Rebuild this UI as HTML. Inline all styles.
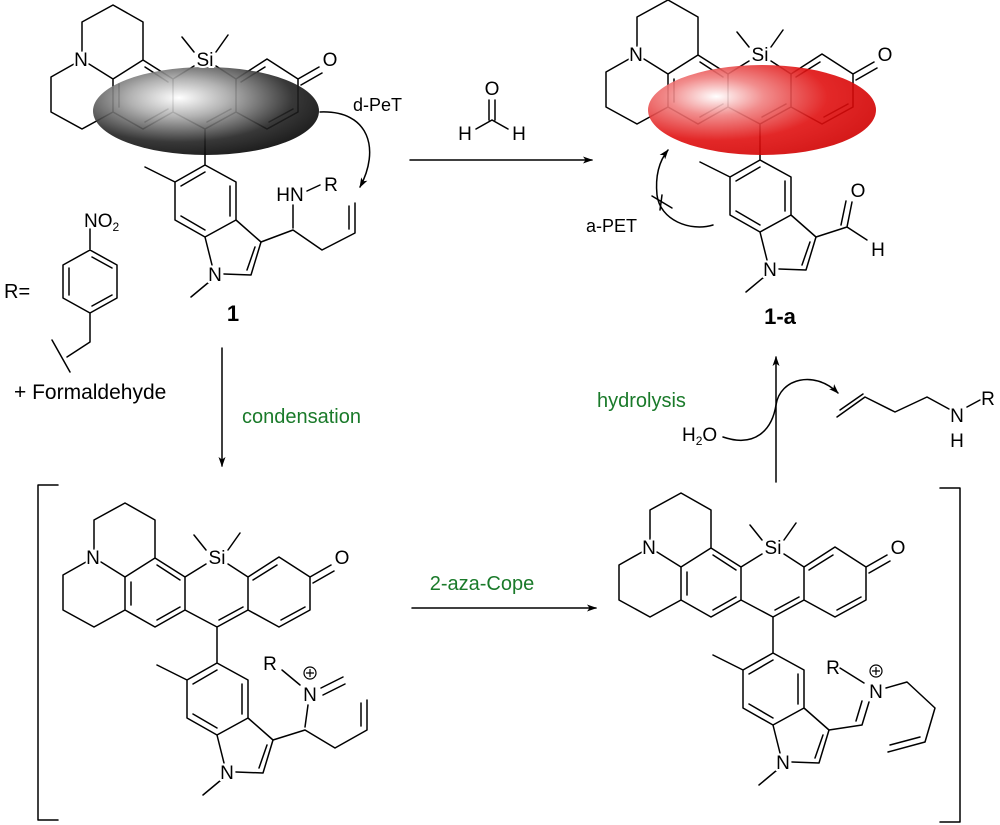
<!DOCTYPE html>
<html><head><meta charset="utf-8"><style>
html,body{margin:0;padding:0;background:#fff}
svg{display:block}
text{font-family:"Liberation Sans",Arial,sans-serif}
</style></head><body>
<svg width="1000" height="825" viewBox="0 0 1000 825" xmlns="http://www.w3.org/2000/svg">
<defs>
<radialGradient id="gk" cx="0.38" cy="0.35" r="0.72">
<stop offset="0" stop-color="#fff"/><stop offset="0.3" stop-color="#aaa"/><stop offset="0.7" stop-color="#222"/><stop offset="1" stop-color="#000"/></radialGradient>
<radialGradient id="gr" cx="0.3" cy="0.35" r="0.75">
<stop offset="0" stop-color="#fff"/><stop offset="0.28" stop-color="#f08080"/><stop offset="0.65" stop-color="#e01010"/><stop offset="1" stop-color="#d00000"/></radialGradient>
<marker id="ah" viewBox="0 0 10 10" refX="9" refY="5" markerWidth="10" markerHeight="10" orient="auto" markerUnits="userSpaceOnUse"><path d="M0,1.5 L10,5 L0,8.5 L2.5,5z" fill="#000"/></marker>
</defs>
<g fill="none" stroke="#000" stroke-width="1.5" stroke-linecap="round" stroke-linejoin="round">
<g>
<path d="M94,549 L94,520 L125,503 L155,520 L155,558 M86,562 L63,575 L63,610 L94,627 L125,610 M101,562 L125,577 M155,558 L185,577 L185,610 L155,627 L125,610 L125,577 L155,558 M157,565 L180,580 M131,582 L131,605 M157,620 L180,607 M185,577 L206,564 M228,564 L248,577 L248,610 L217,627 L185,610 M219,620 L243,607 M248,577 L279,557 L310,577 L310,610 L279,627 L248,610 M253,580 L277,565 M281,620 L305,607 M310,577 L331,565 M313,583 L334,571 M206,550 L194,535 M228,550 L240,533 M217,627 L217,663 L248,680 L248,718 L217,735 L187,718 L187,680 L217,663 M217,670 L193,684 M242,684 L242,714 M217,728 L193,714 M187,680 L157,665 M248,718 L273,740 L263,773 L236,772 M267,745 L259,768 M217,735 L224,763 M221,780 L203,795"/>
</g>
<g transform="translate(556,-10)">
<path d="M94,549 L94,520 L125,503 L155,520 L155,558 M86,562 L63,575 L63,610 L94,627 L125,610 M101,562 L125,577 M155,558 L185,577 L185,610 L155,627 L125,610 L125,577 L155,558 M157,565 L180,580 M131,582 L131,605 M157,620 L180,607 M185,577 L206,564 M228,564 L248,577 L248,610 L217,627 L185,610 M219,620 L243,607 M248,577 L279,557 L310,577 L310,610 L279,627 L248,610 M253,580 L277,565 M281,620 L305,607 M310,577 L331,565 M313,583 L334,571 M206,550 L194,535 M228,550 L240,533 M217,627 L217,663 L248,680 L248,718 L217,735 L187,718 L187,680 L217,663 M217,670 L193,684 M242,684 L242,714 M217,728 L193,714 M187,680 L157,665 M248,718 L273,740 L263,773 L236,772 M267,745 L259,768 M217,735 L224,763 M221,780 L203,795"/>
</g>
<g transform="translate(-12,-498)">
<path d="M94,549 L94,520 L125,503 L155,520 L155,558 M86,562 L63,575 L63,610 L94,627 L125,610 M101,562 L125,577 M155,558 L185,577 L185,610 L155,627 L125,610 L125,577 L155,558 M157,565 L180,580 M131,582 L131,605 M157,620 L180,607 M185,577 L206,564 M228,564 L248,577 L248,610 L217,627 L185,610 M219,620 L243,607 M248,577 L279,557 L310,577 L310,610 L279,627 L248,610 M253,580 L277,565 M281,620 L305,607 M310,577 L331,565 M313,583 L334,571 M206,550 L194,535 M228,550 L240,533 M217,627 L217,663 L248,680 L248,718 L217,735 L187,718 L187,680 L217,663 M217,670 L193,684 M242,684 L242,714 M217,728 L193,714 M187,680 L157,665 M248,718 L273,740 L263,773 L236,772 M267,745 L259,768 M217,735 L224,763 M221,780 L203,795"/>
</g>
<g transform="translate(543,-503)">
<path d="M94,549 L94,520 L125,503 L155,520 L155,558 M86,562 L63,575 L63,610 L94,627 L125,610 M101,562 L125,577 M155,558 L185,577 L185,610 L155,627 L125,610 L125,577 L155,558 M157,565 L180,580 M131,582 L131,605 M157,620 L180,607 M185,577 L206,564 M228,564 L248,577 L248,610 L217,627 L185,610 M219,620 L243,607 M248,577 L279,557 L310,577 L310,610 L279,627 L248,610 M253,580 L277,565 M281,620 L305,607 M310,577 L331,565 M313,583 L334,571 M206,550 L194,535 M228,550 L240,533 M217,627 L217,663 L248,680 L248,718 L217,735 L187,718 L187,680 L217,663 M217,670 L193,684 M242,684 L242,714 M217,728 L193,714 M187,680 L157,665 M248,718 L273,740 L263,773 L236,772 M267,745 L259,768 M217,735 L224,763 M221,780 L203,795"/>
</g>
<path d="M273,740 L305,730 L335,748 L367,730 L367,700 M361,726 L361,703 M305,727 L308,705 M282,670 L300,685 M321,688 L343,677 M323,695 L345,684"/>
<path d="M829,730 L862,725 L869,702 M856,721 L862,701 M886,688 L907,682 L935,708 L925,742 L888,752 M890,745 L920,737 M840,668 L864,683"/>
<path d="M261,242 L293,230 L322,250 L355,233 L355,203 M349,229 L349,206 M293,228 L293,205 M307,191 L320,185"/>
<path d="M816,237 L847,227 L867,240 M847,227 L852,202 M841,225 L846,201"/>
<path d="M90,250 L117,265 L117,298 L90,313 L63,298 L63,265 Z M69,268 L69,295 M92,257 L112,268 M92,306 L112,295 M90,250 L90,229 M90,313 L90,342 L67,357 M52,340 L70,372"/>
<path d="M489,100 L489,120 M495,100 L495,120 M492,120 L476,129 M492,120 L508,129"/>
<path d="M837,417 L865,397 L895,412 L927,397 L949,409 M840,410 L863,394 M967,407 L980,400"/>
<path d="M410,160 L592,160" marker-end="url(#ah)"/>
<path d="M222,348 L222,466" marker-end="url(#ah)"/>
<path d="M412,608 L596,608" marker-end="url(#ah)"/>
<path d="M776,482 L776,357" marker-end="url(#ah)"/>
<path d="M723,437 C755,448 772,430 776,405 C780,378 815,370 838,393" marker-end="url(#ah)"/>
<path d="M320,112 C370,110 380,150 360,187" marker-end="url(#ah)"/>
<path d="M713,225 C690,232 660,220 657,195 C655,175 660,160 668,150" marker-end="url(#ah)"/>
<path d="M652,196 L672,208 M662,195 L660,210"/>
<path d="M58,485 L38,485 L38,820 L58,820 M940,488 L960,488 L960,822 L940,822"/>
</g>
<ellipse cx="206" cy="111" rx="113" ry="44" fill="url(#gk)" opacity="0.9"/>
<ellipse cx="762" cy="110" rx="114" ry="45" fill="url(#gr)" opacity="0.9"/>
<g fill="#000" font-size="19" text-anchor="middle" stroke="#fff" stroke-width="4" paint-order="stroke">
<text x="93" y="564">N</text><text x="217" y="564">Si</text><text x="342" y="564">O</text><text x="227" y="779">N</text>
<text x="649" y="554">N</text><text x="773" y="554">Si</text><text x="898" y="554">O</text><text x="783" y="769">N</text>
<text x="81" y="66">N</text><text x="205" y="66">Si</text><text x="330" y="66">O</text><text x="215" y="281">N</text>
<text x="636" y="61">N</text><text x="760" y="61">Si</text><text x="885" y="61">O</text><text x="770" y="276">N</text>
<text x="310" y="701">N</text><text x="270" y="670">R</text>
<text x="876" y="698">N</text><text x="833" y="674">R</text>
<text x="290" y="201">HN</text><text x="331" y="191">R</text>
<text x="858" y="197">O</text><text x="878" y="256">H</text>
<text x="492" y="95">O</text><text x="465" y="140">H</text><text x="519" y="140">H</text>
<text x="957" y="422">N</text><text x="957" y="447">H</text><text x="988" y="405">R</text>
</g>
<g fill="none" stroke="#000" stroke-width="1.2">
<circle cx="310" cy="673" r="6"/><path d="M306,673 L314,673 M310,669 L310,677"/>
<circle cx="876" cy="671" r="6"/><path d="M872,671 L880,671 M876,667 L876,675"/>
</g>
<g fill="#000" font-size="19">
<text x="84" y="227">NO<tspan font-size="12" dy="4">2</tspan></text>
<text x="682" y="441">H<tspan font-size="12" dy="4">2</tspan><tspan dy="-4">O</tspan></text>
<text x="353" y="111" font-size="18">d-PeT</text>
<text x="586" y="232" font-size="18">a-PET</text>
<text x="4" y="298" font-size="20">R=</text>
<text x="14" y="399" font-size="21">+ Formaldehyde</text>
<text x="233" y="321" font-size="22" font-weight="bold" text-anchor="middle">1</text>
<text x="780" y="324" font-size="22" font-weight="bold" text-anchor="middle">1-a</text>
</g>
<g fill="#1a7a2a" font-size="20">
<text x="242" y="423">condensation</text>
<text x="597" y="407">hydrolysis</text>
<text x="482" y="590" text-anchor="middle">2-aza-Cope</text>
</g>
</svg>
</body></html>
